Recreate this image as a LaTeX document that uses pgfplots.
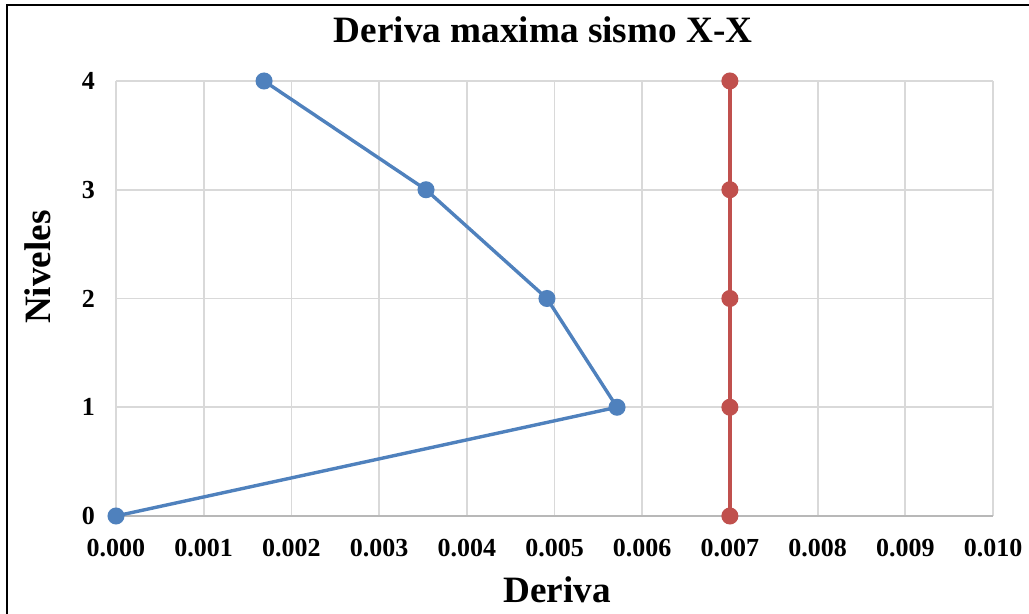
\documentclass[border=0pt]{standalone}
\usepackage{fontspec}
\setmainfont{Liberation Serif}
\usepackage{pgfplots}
\pgfplotsset{compat=1.18}
\definecolor{sblue}{HTML}{4F81BD}
\definecolor{sred}{HTML}{C0504D}
\begin{document}
\begin{tikzpicture}
\useasboundingbox (0,0) rectangle (514.5pt,307pt);
\draw[black,line width=1pt] (3.5pt,-10pt) rectangle (530pt,304.5pt);
\begin{axis}[
  at={(58pt,49pt)}, anchor=south west,
  scale only axis, width=438.5pt, height=217.5pt,
  xmin=0, xmax=0.010, ymin=0, ymax=4,
  xtick={0,0.001,...,0.0105}, ytick={0,1,2,3,4},
  scaled x ticks=false,
  xticklabel style={/pgf/number format/fixed,/pgf/number format/fixed zerofill,/pgf/number format/precision=3, yshift=-8pt},
  /pgf/number format/assume math mode=true,
  tick label style={font=\bfseries\fontsize{13}{13}\selectfont},
  yticklabel style={xshift=-7pt},
  grid=major, major grid style={draw=black!15, line width=0.9pt},
  axis line style={draw=none},
  major tick length=0pt,
  clip=false,
  title={Deriva maxima sismo X-X},
  title style={at={(axis description cs:0.487,1.09)}, anchor=center, font=\bfseries\fontsize{18.6}{18.6}\selectfont},
  xlabel={Deriva},
  xlabel style={at={(axis description cs:0.503,-0.170)}, anchor=center, font=\bfseries\fontsize{18.6}{18.6}\selectfont},
  ylabel={Niveles},
  ylabel style={at={(axis description cs:-0.089,0.572)}, anchor=center, font=\bfseries\fontsize{18.6}{18.6}\selectfont},
]
\draw[black!28, line width=1pt] (axis cs:0,0) -- (axis cs:0.010,0);
\addplot[sblue, line width=1.7pt, mark=*, mark size=3.4pt, mark options={fill=sblue, draw=sblue}] coordinates {
  (0,0) (0.005713,1) (0.004914,2) (0.003535,3) (0.001688,4)};
\addplot[sred, line width=1.7pt, mark=*, mark size=3.4pt, mark options={fill=sred, draw=sred}] coordinates {
  (0.007,0) (0.007,1) (0.007,2) (0.007,3) (0.007,4)};
\end{axis}
\end{tikzpicture}
\end{document}
